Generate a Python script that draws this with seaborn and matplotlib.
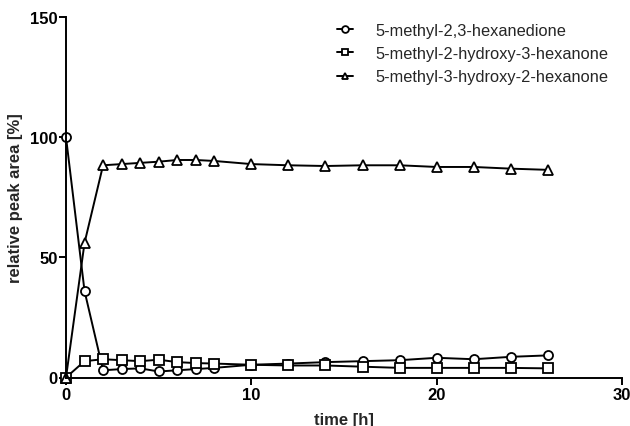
import matplotlib
matplotlib.use("Agg")
import matplotlib.pyplot as plt
import seaborn as sns
import pandas as pd

time_h = [0, 1, 2, 3, 4, 5, 6, 7, 8, 10, 12, 14, 16, 18, 20, 22, 24, 26]
dione = [100, 36, 3.0, 3.5, 3.8, 2.5, 3.0, 3.5, 4.0, 5.3, 5.8, 6.4, 6.8, 7.2, 8.2, 7.6, 8.6, 9.2]
hydroxy3 = [0, 6.8, 7.6, 7.2, 6.8, 7.4, 6.4, 6.0, 5.8, 5.3, 5.0, 5.0, 4.5, 4.0, 4.0, 4.0, 4.0, 3.8]
hydroxy2 = [0, 56, 88.3, 88.8, 89.3, 89.8, 90.5, 90.5, 90.1, 88.8, 88.3, 88.0, 88.3, 88.3, 87.6, 87.6, 86.9, 86.4]

series_names = ["5-methyl-2,3-hexanedione",
                "5-methyl-2-hydroxy-3-hexanone",
                "5-methyl-3-hydroxy-2-hexanone"]
series_values = [dione, hydroxy3, hydroxy2]
markers = ["o", "s", "^"]

x_ticks = [0, 10, 20, 30]
y_ticks = [0, 50, 100, 150]

sns.set_style("ticks")
plt.rcParams["font.family"] = ["Liberation Sans", "DejaVu Sans"]

fig = plt.figure(figsize=(6.3, 4.27), dpi=100)
ax = fig.add_axes([66 / 630, 1 - 378.5 / 427, (622 - 66) / 630, (378.5 - 18) / 427])

for name, vals, mk in zip(series_names, series_values, markers):
    df = pd.DataFrame({"time": time_h, "area": vals})
    sns.lineplot(data=df, x="time", y="area", ax=ax, color="black", marker=mk,
                 markersize=6.5, markerfacecolor="white", markeredgecolor="black",
                 markeredgewidth=1.3, linewidth=1.4, label=name, clip_on=False)

ax.set_xlim(0, 30)
ax.set_ylim(0, 150)
ax.set_xticks(x_ticks)
ax.set_yticks(y_ticks)
ax.set_xticklabels([str(t) for t in x_ticks], fontweight="bold", fontsize=12)
ax.set_yticklabels([str(t) for t in y_ticks], fontweight="bold", fontsize=12)
ax.set_xlabel("time [h]", fontweight="bold", fontsize=12, labelpad=7)
ax.set_ylabel("relative peak area [%]", fontweight="bold", fontsize=12, labelpad=5)
sns.despine(ax=ax)
for sp in ["left", "bottom"]:
    ax.spines[sp].set_linewidth(1.4)
    ax.spines[sp].set_color("black")
ax.tick_params(axis="both", direction="out", length=5, width=1.4, colors="black", pad=2)
ax.tick_params(axis="y", pad=1)

leg = ax.legend(loc="upper left", bbox_to_anchor=(337 / 630, 1 - 24 / 427),
                bbox_transform=fig.transFigure, frameon=False,
                fontsize=11.8, handlelength=1.0, handletextpad=1.35, labelspacing=0.5,
                borderaxespad=0, borderpad=0, markerscale=0.75)

fig.savefig("out.png", dpi=100)
